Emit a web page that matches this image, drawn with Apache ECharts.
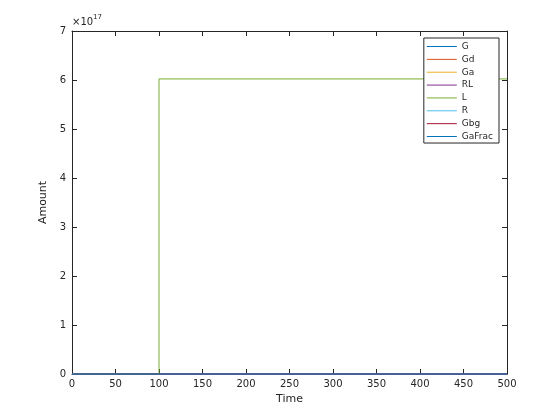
<!DOCTYPE html>
<html><head><meta charset="utf-8">
<script src="https://cdn.jsdelivr.net/npm/echarts@6/dist/echarts.min.js"></script>
<style>html,body{margin:0;padding:0;background:#fff}#c{width:560px;height:420px}</style>
</head><body><div id="c"></div>
<script>
const seriesNames = ['G','Gd','Ga','RL','L','R','Gbg','GaFrac'];
const seriesColors = ['#0072BD','#D95319','#EDB120','#7E2F8E','#77AC30','#4DBEEE','#A2142F','#0072BD'];
const zeroTimes = [0, 500];
const zeroValues = [0, 0];
const lTimes = [0, 100, 100, 500];
const lValues = [0, 0, 6.022e17, 6.022e17];
const xTicks = [0,50,100,150,200,250,300,350,400,450,500];
const yTickScale = 1e17;

const font = 'DejaVu Sans, sans-serif';
const axColor = '#262626';
const series = seriesNames.map((n, i) => {
  const t = n === 'L' ? lTimes : zeroTimes;
  const v = n === 'L' ? lValues : zeroValues;
  return {
    name: n, type: 'line', symbol: 'none', showSymbol: false, animation: false,
    data: t.map((x, k) => [x, v[k]]),
    color: seriesColors[i],
    lineStyle: {color: seriesColors[i], width: 1},
    itemStyle: {color: seriesColors[i]},
    xAxisIndex: 0, yAxisIndex: 0, z: 10 + i, clip: false
  };
});
const chart = echarts.init(document.getElementById('c'));
const baseX = {
  type: 'value', min: 0, max: 500, interval: 50,
  axisLine: {show: true, onZero: false, lineStyle: {color: axColor, width: 1}},
  axisTick: {show: true, inside: true, length: 5, lineStyle: {color: axColor}},
  splitLine: {show: false}, z: 0
};
const baseY = {
  type: 'value', min: 0, max: 7e17, interval: 1e17,
  axisLine: {show: true, onZero: false, lineStyle: {color: axColor, width: 1}},
  axisTick: {show: true, inside: true, length: 5, lineStyle: {color: axColor}},
  splitLine: {show: false}, z: 0
};
chart.setOption({
  animation: false,
  color: seriesColors,
  grid: {left: 72, right: 53, top: 31, bottom: 46, containLabel: false},
  xAxis: [
    Object.assign({}, baseX, {position: 'bottom', name: 'Time', nameLocation: 'middle', nameGap: 19,
      nameTextStyle: {fontFamily: font, fontSize: 11, color: axColor},
      axisLabel: {fontFamily: font, fontSize: 10, color: axColor, margin: 5}}),
    Object.assign({}, baseX, {position: 'top', axisLabel: {show: false}})
  ],
  yAxis: [
    Object.assign({}, baseY, {position: 'left', name: 'Amount', nameLocation: 'middle', nameGap: 17,
      nameTextStyle: {fontFamily: font, fontSize: 11, color: axColor},
      axisLabel: {fontFamily: font, fontSize: 10, color: axColor, margin: 6,
        formatter: v => String(Math.round(v / yTickScale))}}),
    Object.assign({}, baseY, {position: 'right', axisLabel: {show: false}})
  ],
  legend: {
    orient: 'vertical', right: 61, top: 38, z: 20,
    backgroundColor: '#fff', borderColor: axColor, borderWidth: 1,
    padding: [3, 6, 1, 3], itemWidth: 30, itemHeight: 1, itemGap: 1.86,
    icon: 'rect',
    itemStyle: {borderWidth: 0},
    textStyle: {fontFamily: font, fontSize: 9, color: axColor, lineHeight: 11},
    data: seriesNames.map((n, i) => ({name: n, icon: 'rect',
      itemStyle: {color: seriesColors[i], borderWidth: 0}})),
    selectedMode: false
  },
  graphic: [{
    type: 'text', left: 72, top: 14,
    style: {
      text: '{a|×10}{b|17}', fill: axColor,
      rich: {a: {fontFamily: font, fontSize: 10, color: axColor, verticalAlign: 'bottom'},
             b: {fontFamily: font, fontSize: 7, color: axColor, verticalAlign: 'top', padding: [0,0,6,0]}}
    }
  }],
  series: series
});
</script></body></html>
